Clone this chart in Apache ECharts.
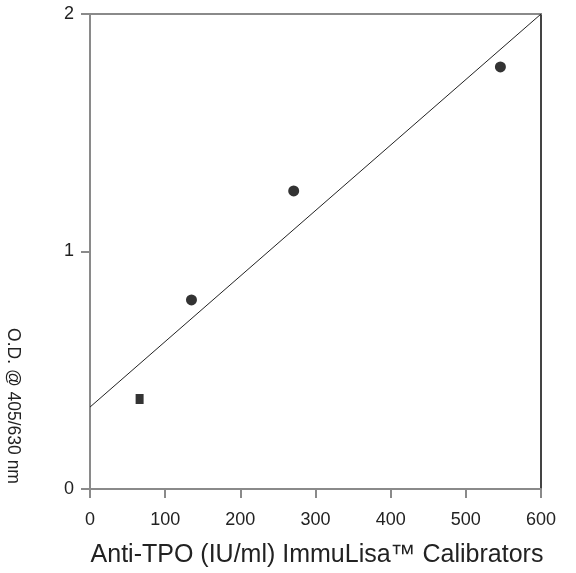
<!DOCTYPE html>
<html>
<head>
<meta charset="utf-8">
<script src="https://cdn.jsdelivr.net/npm/echarts@6/dist/echarts.min.js"></script>
<style>
  html, body { margin: 0; padding: 0; background: #fff; }
  #chart { width: 576px; height: 573px; }
</style>
</head>
<body>
<div id="chart"></div>
<script>
// Calibrator concentrations (IU/ml) and mean optical densities
const calibratorConc = [66, 135, 271, 546];
const meanOD = [0.379, 0.796, 1.255, 1.777];
// Fitted calibration line end points
const fitX = [0, 600];
const fitY = [0.345, 2.0];
// Axis ticks
const xTicks = [0, 100, 200, 300, 400, 500, 600];
const yTicks = [0, 1, 2];

const FONT = '"Liberation Sans", Arial, sans-serif';
const chart = echarts.init(document.getElementById('chart'));

const pointData = calibratorConc.map((x, i) => {
  const item = { value: [x, meanOD[i]] };
  if (i === 0) { item.symbol = 'rect'; item.symbolSize = [8, 10]; }
  return item;
});

chart.setOption({
  animation: false,
  backgroundColor: '#fff',
  grid: { left: 90, right: 35, top: 14, bottom: 84 },
  xAxis: [{
    type: 'value', min: xTicks[0], max: xTicks[xTicks.length - 1], interval: 100,
    axisLine: { show: true, lineStyle: { color: '#8a8a8a', width: 2 } },
    axisTick: { show: true, length: 9, lineStyle: { color: '#8a8a8a', width: 2 } },
    axisLabel: { fontFamily: FONT, fontSize: 18, color: '#222', margin: 22 },
    splitLine: { show: false }
  }, {
    type: 'value', position: 'top', min: 0, max: 600,
    axisLine: { show: true, onZero: false, lineStyle: { color: '#8a8a8a', width: 2 } },
    axisTick: { show: false }, axisLabel: { show: false }, splitLine: { show: false }
  }],
  yAxis: [{
    type: 'value', min: yTicks[0], max: yTicks[yTicks.length - 1], interval: 1,
    axisLine: { show: true, lineStyle: { color: '#8a8a8a', width: 2 } },
    axisTick: { show: true, length: 9, lineStyle: { color: '#8a8a8a', width: 2 } },
    axisLabel: { fontFamily: FONT, fontSize: 18, color: '#222', margin: 16 },
    splitLine: { show: false }
  }, {
    type: 'value', position: 'right', min: 0, max: 2,
    axisLine: { show: true, onZero: false, lineStyle: { color: '#444', width: 2 } },
    axisTick: { show: false }, axisLabel: { show: false }, splitLine: { show: false }
  }],
  graphic: [{
    type: 'text',
    x: 13, y: 406,
    rotation: -Math.PI / 2,
    style: {
      text: 'O.D. @ 405/630 nm',
      font: '17.5px ' + FONT,
      fill: '#222',
      textAlign: 'center',
      textVerticalAlign: 'middle'
    }
  }, {
    type: 'text',
    x: 317, y: 555,
    style: {
      text: 'Anti-TPO (IU/ml) ImmuLisa\u2122 Calibrators',
      font: '25px ' + FONT,
      fill: '#222',
      textAlign: 'center',
      textVerticalAlign: 'middle'
    }
  }],
  series: [{
    type: 'line',
    data: fitX.map((x, i) => [x, fitY[i]]),
    showSymbol: false,
    symbol: 'none',
    lineStyle: { color: '#222', width: 1 },
    z: 2
  }, {
    type: 'scatter',
    data: pointData,
    symbol: 'circle',
    symbolSize: 11,
    itemStyle: { color: '#000' },
    z: 3
  }]
});
</script>
</body>
</html>
